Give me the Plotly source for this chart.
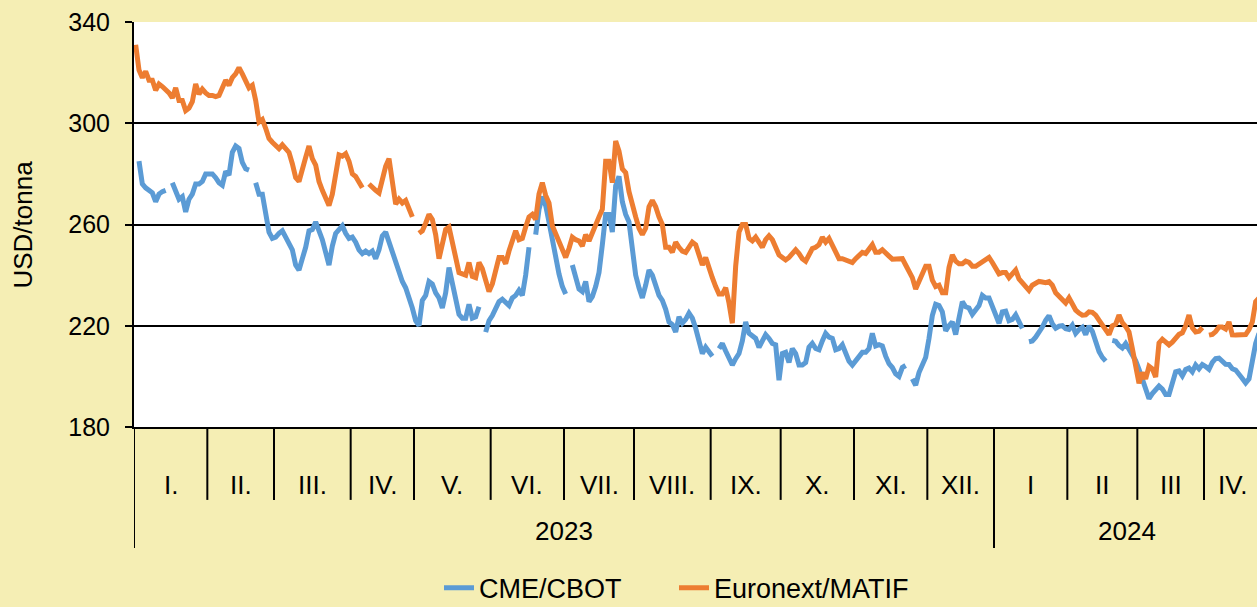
import pandas as pd
import plotly.graph_objects as go

# ---------------- data ----------------
MONTH_LABELS = ["I.", "II.", "III.", "IV.", "V.", "VI.", "VII.", "VIII.", "IX.", "X.", "XI.", "XII.",
                "I", "II", "III", "IV."]
YEAR_LABELS = ["2023", "2024"]
FIRST_DAY = "2023-01-02"
LAST_DAY = "2024-04-23"
CLOSED_DAYS = ["2023-04-07", "2023-12-25", "2024-01-01", "2024-03-29"]
N = None

# CME/CBOT, USD/tonna (one value per trading day, None = no quote)
cbot_2023 = [
    N, 285, 276, 274.5, 273.5, 272.5, 269, 272, 273, 273.5, N, 276.5, 272.5, 270, 271, 265, 270, 272, 276, 276, 277, 280,
    280, 280, 278.5, 276.5, 275.5, 281, 279.5, 288.5, 291, 290, 284.5, 282, 281.5, N, 276.5, 272, 272, 265, 257, 254.5,
    255, 256.5, 257.5, 255, 252, 250, 244, 242, 246.5, 251, 257.5, 258, 261, 257.5, 254, 249, 244, 251.5, 256.5, 258, 259.5, 256.5, 254.5,
    255, 253, 250, 248.5, 249.5, 248.5, 249.5, 246.5, 250, 255.5, 257, 253, 248, 245, 241.5, 237.5, 235, 231.5, 227,
    222, 220, 230, 232, 237.5, 236.5, 233, 231, 227, 233, 243, 237, 229.5, 224.5, 223, 223, 228.5, 223, 223.5, 227.5, N, 217.5, 222,
    224, 226.8, 229.5, 230.5, 229, 228, 231, 232, 234, 232, 240, 251, N, 256, 266, 271, 267.5, 261, 254.5, 246, 240.5, 235.5,
    232.5, N, 244, 239, 234.5, 233.5, 237.5, 229.5, 231.5, 235.5, 241, 252, 264, 264, 257, 275.3, 279, 269, 264, 261, 248.5,
    240, 235, 231, 236, 242, 240, 236, 232, 230, 226.5, 221.5, 220.5, 217.5, 223.5, 221, 222.5, 225, 223, 219, 214.5, 209, 211.5, 210,
    208, N, 211, 213, 210, 207.5, 204.5, 207, 209, 214, 221.5, 217, 216, 215, 211.5, 214, 216.5, 215, 213, 212.5, 198.5,
    209, 209.5, 205.5, 211, 209, 204.5, 204.5, 205.5, 211.5, 213, 211, 210.5, 214, 217, 215.5, 215, 210.5, 211, 212.5, 209.5, 206, 204.5,
    206, 208, 209.5, 209.5, 211, 217, 212, 212.5, 212, 208, 205, 203.5, 201, 200, 203.5, 204.3, N, 199, 196.5, 201.5, 205, 207.5,
    215, 224, 228.5, 228, 225.5, 218, 220, 221.5, 216.5, 222, 229.5, 227.5, 227, 224.5, 226, 228, 232, 231, 231, 228,
]
cbot_2024 = [
    223.8, 221, 225.5, 225.8, 222, 222.5, 224.3, 222, 219, N, 213.7, 214, 215.5, 217.4, 219.5, 222.2, 224, 220.8, 219, 219.8, 220, 218.8,
    218.5, 220.2, 217, 218.5, 219.4, 216.5, 219.9, 217.8, 213.5, 209.8, 207.5, 206, N, 214.2, 213.9, 212.2, 211.2, 213, 210.8, 208, 206.2,
    202.8, 198.5, 194.5, 191.2, 193.2, 195, 196.2, 195, 192.8, 192.8, 198.2, 201.8, 202.2, 200.2, 202.7, 203.3, 201.8, 204.5, 203, 204.7,
    203.9, 202.8, 205.5, 207, 207.2, 205.7, 204.8, 204.7, 203, 202.5, 201.1, 199.2, 197.4, 199, 206, 213, 217,
]

# Euronext/MATIF, USD/tonna
matif_2023 = [
    331, 321, 318, 320.5, 317, 317, 313, 315.5, 314.5, 313.5, 312, 310, 314, 309, 309, 305, 306, 308.5, 315.5, 311.5, 313.5, 312,
    311, 311, 310.5, 311, 313.5, 317, 315, 318, 319.5, 322, 319.5, 316.5, 314, 315, 309, 300.5, 301.5, 298, 294, 292.5,
    291.5, 290, 291.5, 290, 288.5, 284, 278.5, 277, 282.5, 286.5, 291, 286, 283.5, 277, 273.5, 271, 267.5, 272, 281, 287.5, 287, 288, 285,
    280, 279, 277, 274.5, N, 276, 274.5, 273.5, 272.5, 278, 283, 286, 276, 268, 270, 268.5, 269.5, 266, 263,
    N, 256.5, 257.5, 260.5, 264, 262, 256, 246.5, 252, 258, 259, 253, 245, 241, 240.5, 240, 245, 239.5, 239, 245, 242.5, 238.5, 233.5,
    236.5, 241, 247, 247, 244.5, 249.5, 253, 257.5, 254, 254.5, 259, 263, 264, 262, 272, 276.5, 271.5, 268.5, 259.5, 256.5, 254, 251,
    247, 250.5, 255, 254, 253.5, 251.5, 256, 253.5, 257, 260, 263, 266, 285, 285, 276.5, 293, 289, 282, 280.5, 273, 267,
    263, 258.5, 256, 258.5, 267, 269.5, 267, 263, 260, 251, 251, 249, 253, 251, 249.5, 249, 251.5, 253, 252, 248, 244, 247, 242.5,
    239, 235.5, 232.5, 232.5, 235, 229, 221, 243.5, 257, 260, 260, 254.5, 253.5, 255, 252.5, 251, 254, 255.5, 254, 251.5, 248,
    247, 246, 247, 248.5, 250, 248.5, 246.5, 245.5, 248.5, 250.5, 251, 252, 255, 253, 254.5, 252, 249, 246.5, 246.5, 246, 245.5, 245,
    246.5, 248, 249, 248.5, 250.5, 252, 249, 249, 250, 248.5, 247.5, 246.3, 246.3, 246.3, 246.5, 244, 241.5, 239, 234.5, 237.5, 241.5, 243.5,
    243.5, 238, 235.5, 236, 233, 233, 243, 248, 245.5, 244.5, 244.5, 245.5, 245, 243.5, 243.5, 244.5, 245.5, 246.5, 247, 245,
]
matif_2024 = [
    243, 240.5, 241, 241, 239, 240.5, 242, 238.5, 237, 236, 234, 236, 237, 237.5, 237.3, 237, 237.4, 236, 233, 231.5, 230.2, 229,
    231, 228.2, 226.2, 225, 224.2, 224.3, 225.5, 225.3, 224.2, 222.2, 220.5, 218.5, 216.5, 220, 220.6, 224.2, 221.2, 219.7, 217.6, 211, 204.5,
    197.3, 201.5, 199, 204, 203, 199.7, 213.2, 214.7, 213.5, 212.4, 213.5, 215, 216.6, 217.2, 220, 224.2, 219.2, 217.5, 217.8, 219.3,
    N, 216.3, 216.6, 217.7, 219.5, 219.5, 218.7, 221.5, 216.4, 216.3, 216.3, 216.1, 216.5, 218.5, 221.5, 229.5, 231,
]

# ---------------- build ----------------
days = pd.bdate_range(FIRST_DAY, LAST_DAY)
days = days[~days.isin(pd.to_datetime(CLOSED_DAYS))]
cbot = cbot_2023 + cbot_2024
matif = matif_2023 + matif_2024
assert len(days) == len(cbot) == len(matif), (len(days), len(cbot), len(matif))
xs = days + pd.Timedelta(hours=12)

FONT = "Liberation Sans, Arial, sans-serif"
BG = "#F5EEB4"

fig = go.Figure()
fig.add_trace(go.Scatter(x=xs, y=cbot, name="CME/CBOT", mode="lines", connectgaps=False,
                         line=dict(color="#5B9BD5", width=5)))
fig.add_trace(go.Scatter(x=xs, y=matif, name="Euronext/MATIF", mode="lines", connectgaps=False,
                         line=dict(color="#ED7D31", width=5)))

# month / year structure from the trading days
periods = days.to_period("M")
starts = [i for i in range(len(days)) if i == 0 or periods[i] != periods[i - 1]]
ends = starts[1:] + [len(days)]


def mid_pos(s, n):
    d = days[s + n // 2]
    return d if n % 2 == 0 else d + pd.Timedelta(hours=12)


shapes = []
annotations = []
for k, (s, e) in enumerate(zip(starts, ends)):
    is_year = days[s].month == 1
    shapes.append(dict(type="line", xref="x", yref="paper", x0=days[s], x1=days[s],
                       y0=0, y1=-0.299 if is_year else -0.18,
                       line=dict(color="black", width=2)))
    annotations.append(dict(x=mid_pos(s, e - s), y=-0.143, xref="x", yref="paper",
                            text=MONTH_LABELS[k], showarrow=False,
                            xanchor="center", yanchor="middle",
                            font=dict(size=26, color="black", family=FONT)))

year_starts = [i for i in range(len(days)) if i == 0 or days[i].year != days[i - 1].year]
year_ends = year_starts[1:] + [len(days)]
for k, (s, e) in enumerate(zip(year_starts, year_ends)):
    annotations.append(dict(x=mid_pos(s, e - s), y=-0.257, xref="x", yref="paper",
                            text=YEAR_LABELS[k], showarrow=False,
                            xanchor="center", yanchor="middle",
                            font=dict(size=26, color="black", family=FONT)))

annotations.append(dict(x=-0.0997, y=0.5, xref="paper", yref="paper", text="USD/tonna",
                        textangle=-90, showarrow=False, xanchor="center", yanchor="middle",
                        font=dict(size=26, color="black", family=FONT)))

fig.update_layout(
    width=1257, height=607,
    margin=dict(l=134, r=0, t=22, b=180, autoexpand=False),
    paper_bgcolor=BG, plot_bgcolor="white",
    font=dict(family=FONT, color="black", size=24),
    showlegend=True,
    legend=dict(orientation="h", xref="container", yref="container",
                x=0.5362, xanchor="center", y=0.031, yanchor="middle",
                bgcolor="rgba(0,0,0,0)", font=dict(size=27, family=FONT, color="black"),
                entrywidth=190),
    shapes=shapes,
    annotations=annotations,
    xaxis=dict(type="date", range=["2023-01-02", "2024-04-22 21:36"],
               rangebreaks=[dict(bounds=["sat", "mon"]), dict(values=CLOSED_DAYS)],
               showgrid=False, zeroline=False, showticklabels=False, ticks="",
               showline=True, linecolor="black", linewidth=2),
    yaxis=dict(range=[180, 340], tickvals=[180, 220, 260, 300, 340], showgrid=True,
               gridcolor="black", gridwidth=2, zeroline=False,
               showline=True, linecolor="black", linewidth=2,
               ticks="outside", ticklen=7, tickwidth=2, tickcolor="black",
               ticklabelstandoff=10,
               tickfont=dict(size=25, family=FONT, color="black")),
)

fig.write_html("out.html", config={"displayModeBar": False},
               post_script="document.body.style.margin='0px';")
